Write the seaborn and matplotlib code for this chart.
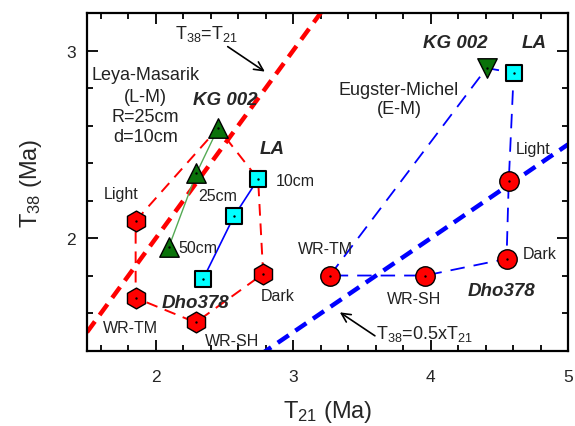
#!/usr/bin/env python3
#
# Dho378 / KG 002 / LA exposure ages: T38 vs T21 for two production models
#
import numpy as np
import matplotlib
import matplotlib.pyplot as plt
import seaborn as sns
from matplotlib.ticker import MultipleLocator

sns.set_style('ticks')
plt.rcParams['font.family'] = ['Liberation Sans', 'DejaVu Sans']
plt.rcParams['mathtext.fontset'] = 'custom'
plt.rcParams['mathtext.rm'] = 'Liberation Sans'
plt.rcParams['mathtext.it'] = 'Liberation Sans:italic'

# Leya-Masarik model (L-M)
lm_dho_labels = ['Light', 'WR-TM', 'WR-SH', 'Dark']
lm_dho_t21 = [1.854, 1.854, 2.291, 2.782]
lm_dho_t38 = [2.093, 1.683, 1.552, 1.811]
depths = ['10cm', '25cm', '50cm']
lm_kg_t21 = [2.454, 2.296, 2.095]
lm_kg_t38 = [2.587, 2.346, 1.953]
lm_la_t21 = [2.745, 2.570, 2.345]
lm_la_t38 = [2.316, 2.118, 1.784]

# Eugster-Michel model (E-M)
em_dho_labels = ['Light', 'WR-TM', 'WR-SH', 'Dark']
em_dho_t21 = [4.569, 3.267, 3.961, 4.553]
em_dho_t38 = [2.305, 1.802, 1.802, 1.891]
em_kg_t21 = [4.408]
em_kg_t38 = [2.907]
em_la_t21 = [4.605]
em_la_t38 = [2.881]

# Reference lines T38 = k x T21
ref_t21 = np.array([1.5, 5.0])
ref_slopes = [1.0, 0.5]

red = '#ff0000'
blue = '#0000ff'
green = '#0a720a'
cyan = '#00ffff'

fig = plt.figure(figsize=(5.75, 4.27), dpi=100)
ax = fig.add_axes([0.1513, 0.1756, 0.8365, 0.7916])

# Reference lines
sns.lineplot(x=ref_t21, y=ref_slopes[0] * ref_t21, ax=ax, color=red, lw=3.2,
             linestyle=(0, (3.0, 1.8)), zorder=1)
sns.lineplot(x=ref_t21, y=ref_slopes[1] * ref_t21, ax=ax, color=blue, lw=3.2,
             linestyle=(0, (3.0, 1.8)), zorder=1)

# L-M polygon: Light -> KG -> LA -> Dark -> WR-SH -> WR-TM -> Light
px = [lm_dho_t21[0], lm_kg_t21[0], lm_la_t21[0], lm_dho_t21[3],
      lm_dho_t21[2], lm_dho_t21[1], lm_dho_t21[0]]
py = [lm_dho_t38[0], lm_kg_t38[0], lm_la_t38[0], lm_dho_t38[3],
      lm_dho_t38[2], lm_dho_t38[1], lm_dho_t38[0]]
sns.lineplot(x=px, y=py, ax=ax, sort=False, estimator=None, color=red,
             lw=1.4, linestyle=(0, (6, 4)), zorder=2)

# E-M polygon: WR-TM -> KG -> LA -> Light -> Dark -> WR-SH -> WR-TM
px = [em_dho_t21[1], em_kg_t21[0], em_la_t21[0], em_dho_t21[0],
      em_dho_t21[3], em_dho_t21[2], em_dho_t21[1]]
py = [em_dho_t38[1], em_kg_t38[0], em_la_t38[0], em_dho_t38[0],
      em_dho_t38[3], em_dho_t38[2], em_dho_t38[1]]
sns.lineplot(x=px, y=py, ax=ax, sort=False, estimator=None, color=blue,
             lw=1.3, linestyle=(0, (8, 5)), zorder=2)

# Depth profiles
sns.lineplot(x=lm_kg_t21, y=lm_kg_t38, ax=ax, sort=False, estimator=None,
             color='#55aa55', lw=1.0, zorder=2)
sns.lineplot(x=lm_la_t21, y=lm_la_t38, ax=ax, sort=False, estimator=None,
             color=blue, lw=1.2, zorder=2)

# Markers
mk = dict(ax=ax, edgecolor='black', linewidth=1.0, zorder=4, legend=False)
sns.scatterplot(x=lm_dho_t21, y=lm_dho_t38, marker='h', s=15 ** 2,
                color=red, **mk)
sns.scatterplot(x=lm_kg_t21, y=lm_kg_t38, marker='^', s=14 ** 2,
                color=green, **mk)
sns.scatterplot(x=lm_la_t21, y=lm_la_t38, marker='s', s=11.5 ** 2,
                color=cyan, **dict(mk, linewidth=1.5))
sns.scatterplot(x=em_dho_t21, y=em_dho_t38, marker='o', s=14 ** 2,
                color=red, **mk)
sns.scatterplot(x=em_kg_t21, y=em_kg_t38, marker='v', s=14 ** 2,
                color=green, **mk)
sns.scatterplot(x=em_la_t21, y=em_la_t38, marker='s', s=11.5 ** 2,
                color=cyan, **dict(mk, linewidth=1.5))

# Centre dots
all_x = lm_dho_t21 + lm_kg_t21 + lm_la_t21 + em_dho_t21 + em_kg_t21 + em_la_t21
all_y = lm_dho_t38 + lm_kg_t38 + lm_la_t38 + em_dho_t38 + em_kg_t38 + em_la_t38
ax.scatter(all_x, all_y, s=3, color='black', zorder=5, lw=0)

# Text
txt = '#222222'
lab = dict(fontsize=11.5, color=txt, ha='center', va='center')
bi = dict(fontsize=13.5, fontweight='bold', fontstyle='italic',
          ha='center', va='center')

lm_title = ['Leya-Masarik', '(L-M)', 'R=25cm', 'd=10cm']
lm_title_y = [2.872, 2.757, 2.650, 2.543]
for line, y in zip(lm_title, lm_title_y):
    ax.text(1.927, y, line, fontsize=13, color=txt, ha='center', va='center')
ax.text(3.770, 2.741, 'Eugster-Michel\n(E-M)', fontsize=13, color=txt,
        ha='center', va='center', linespacing=1.15)

ax.text(2.503, 2.738, 'KG 002', **bi)
ax.text(2.845, 2.481, 'LA', **bi)
ax.text(2.291, 1.658, 'Dho378', **bi)
ax.text(4.181, 3.043, 'KG 002', **bi)
ax.text(4.753, 3.043, 'LA', **bi)
ax.text(4.513, 1.722, 'Dho378', **bi)

ax.text(2.874, 2.310, depths[0], fontsize=11.5, color=txt, va='center')
ax.text(2.306, 2.230, depths[1], fontsize=11.5, color=txt, va='center')
ax.text(2.168, 1.952, depths[2], fontsize=11.5, color=txt, va='center')

lm_lab_pos = [(1.745, 2.241), (1.818, 1.524), (2.554, 1.455), (2.889, 1.695)]
em_lab_pos = [(4.746, 2.481), (3.238, 1.947), (3.879, 1.679), (4.797, 1.920)]
for name, (x, y) in zip(lm_dho_labels, lm_lab_pos):
    ax.text(x, y, name, **lab)
for name, (x, y) in zip(em_dho_labels, em_lab_pos):
    ax.text(x, y, name, **lab)

ax.text(2.371, 3.096, r'T$_\mathregular{38}$=T$_\mathregular{21}$',
        fontsize=13, color=txt, ha='center', va='center')
ax.annotate('', xy=(2.794, 2.888), xytext=(2.524, 3.021),
            arrowprops=dict(arrowstyle='->', lw=1.2, color='black',
                            mutation_scale=16, shrinkA=0, shrinkB=0))
ax.text(3.602, 1.497, r'T$_\mathregular{38}$=0.5xT$_\mathregular{21}$',
        fontsize=13, color=txt, ha='left', va='center')
ax.annotate('', xy=(3.340, 1.606), xytext=(3.595, 1.481),
            arrowprops=dict(arrowstyle='->', lw=1.2, color='black',
                            mutation_scale=16, shrinkA=0, shrinkB=0))

# Axes
ax.set_xlim(1.5, 5.0)
ax.set_ylim(1.4, 3.2)
ax.set_xticks([2, 3, 4, 5])
ax.set_yticks([2, 3])
ax.xaxis.set_minor_locator(MultipleLocator(0.2))
ax.yaxis.set_minor_locator(MultipleLocator(0.2))
ax.tick_params(which='both', direction='in', top=True, right=True,
               width=1.3, color='black')
ax.tick_params(which='major', length=8, labelsize=12.5)
ax.tick_params(axis='x', which='major', pad=13)
ax.tick_params(axis='y', which='major', pad=8)
ax.tick_params(which='minor', length=4)
for s in ax.spines.values():
    s.set_linewidth(1.6)
    s.set_color('black')

ax.set_xlabel(r'T$_\mathregular{21}$ (Ma)', fontsize=17, labelpad=10)
ax.set_ylabel(r'T$_\mathregular{38}$ (Ma)', fontsize=17, labelpad=16)

fig.savefig('out.png', dpi=100)
